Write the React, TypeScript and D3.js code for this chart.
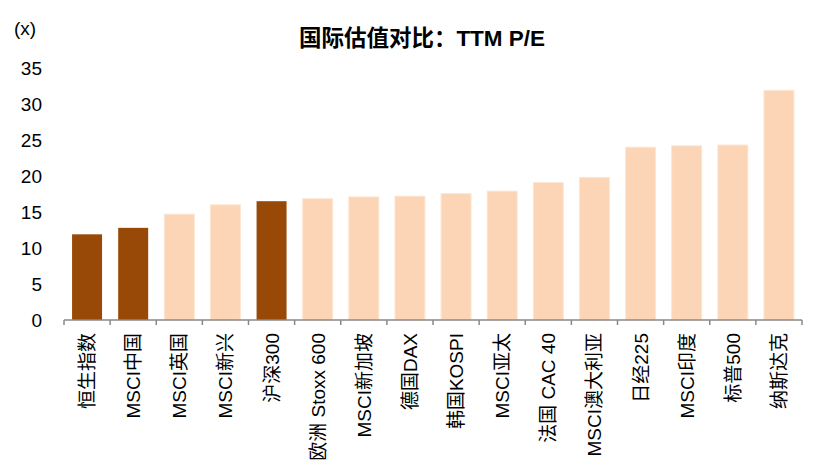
import React from "react";
import { scaleBand, scaleLinear } from "d3";

const categories = [
  "恒生指数", "MSCI中国", "MSCI英国", "MSCI新兴", "沪深300", "欧洲 Stoxx 600",
  "MSCI新加坡", "德国DAX", "韩国KOSPI", "MSCI亚太", "法国 CAC 40", "MSCI澳大利亚",
  "日经225", "MSCI印度", "标普500", "纳斯达克",
];
const peValues = [11.9, 12.8, 14.7, 16.0, 16.5, 16.85, 17.1, 17.2, 17.55, 17.9, 19.1, 19.8, 24.0, 24.2, 24.3, 31.9];
const highlighted = ["恒生指数", "MSCI中国", "沪深300"];
const yTicks = [0, 5, 10, 15, 20, 25, 30, 35];

const FONT = "'Liberation Sans', Arial, 'Noto Sans CJK SC', sans-serif";

export default function App() {
  const width = 821;
  const height = 475;
  const left = 64;
  const right = 802;
  const top = 68;
  const bottom = 320;

  const x = scaleBand().domain(categories).range([left, right]).paddingInner(0.35).paddingOuter(0.175);
  const y = scaleLinear().domain([0, 35]).range([bottom, top]);
  const step = x.step();

  return (
    <svg width={width} height={height} style={{ position: "absolute", left: 0, top: 0, background: "#fff" }} fontFamily={FONT}>
      <text x={422} y={46} textAnchor="middle" fontSize={22.5} fontWeight="bold" fill="#000">
        国际估值对比：TTM P/E
      </text>
      <text x={14} y={35} fontSize={19} fill="#000">(x)</text>
      {yTicks.map((t) => (
        <text key={t} x={42} y={y(t)} dy="0.36em" textAnchor="end" fontSize={19} fill="#000">
          {t}
        </text>
      ))}
      {categories.map((c, i) => (
        <rect
          key={c}
          x={x(c)}
          y={y(peValues[i])}
          width={x.bandwidth()}
          height={bottom - y(peValues[i])}
          fill={highlighted.includes(c) ? "#984807" : "#FBD5B5"}
          stroke={highlighted.includes(c) ? "none" : "#FDE6D3"}
          strokeWidth={1}
        />
      ))}
      <line x1={left} x2={right} y1={bottom} y2={bottom} stroke="#888" strokeWidth={1.5} />
      {categories.map((c, i) => (
        <line key={"t" + i} x1={left + i * step} x2={left + i * step} y1={bottom} y2={bottom + 5} stroke="#888" strokeWidth={1.5} />
      ))}
      <line x1={right} x2={right} y1={bottom} y2={bottom + 5} stroke="#888" strokeWidth={1.5} />
      {categories.map((c) => {
        const cx = (x(c) ?? 0) + x.bandwidth() / 2;
        return (
          <text key={"l" + c} transform={`translate(${cx + 7},333) rotate(-90)`} textAnchor="end" fontSize={19} fill="#000">
            {c}
          </text>
        );
      })}
    </svg>
  );
}
